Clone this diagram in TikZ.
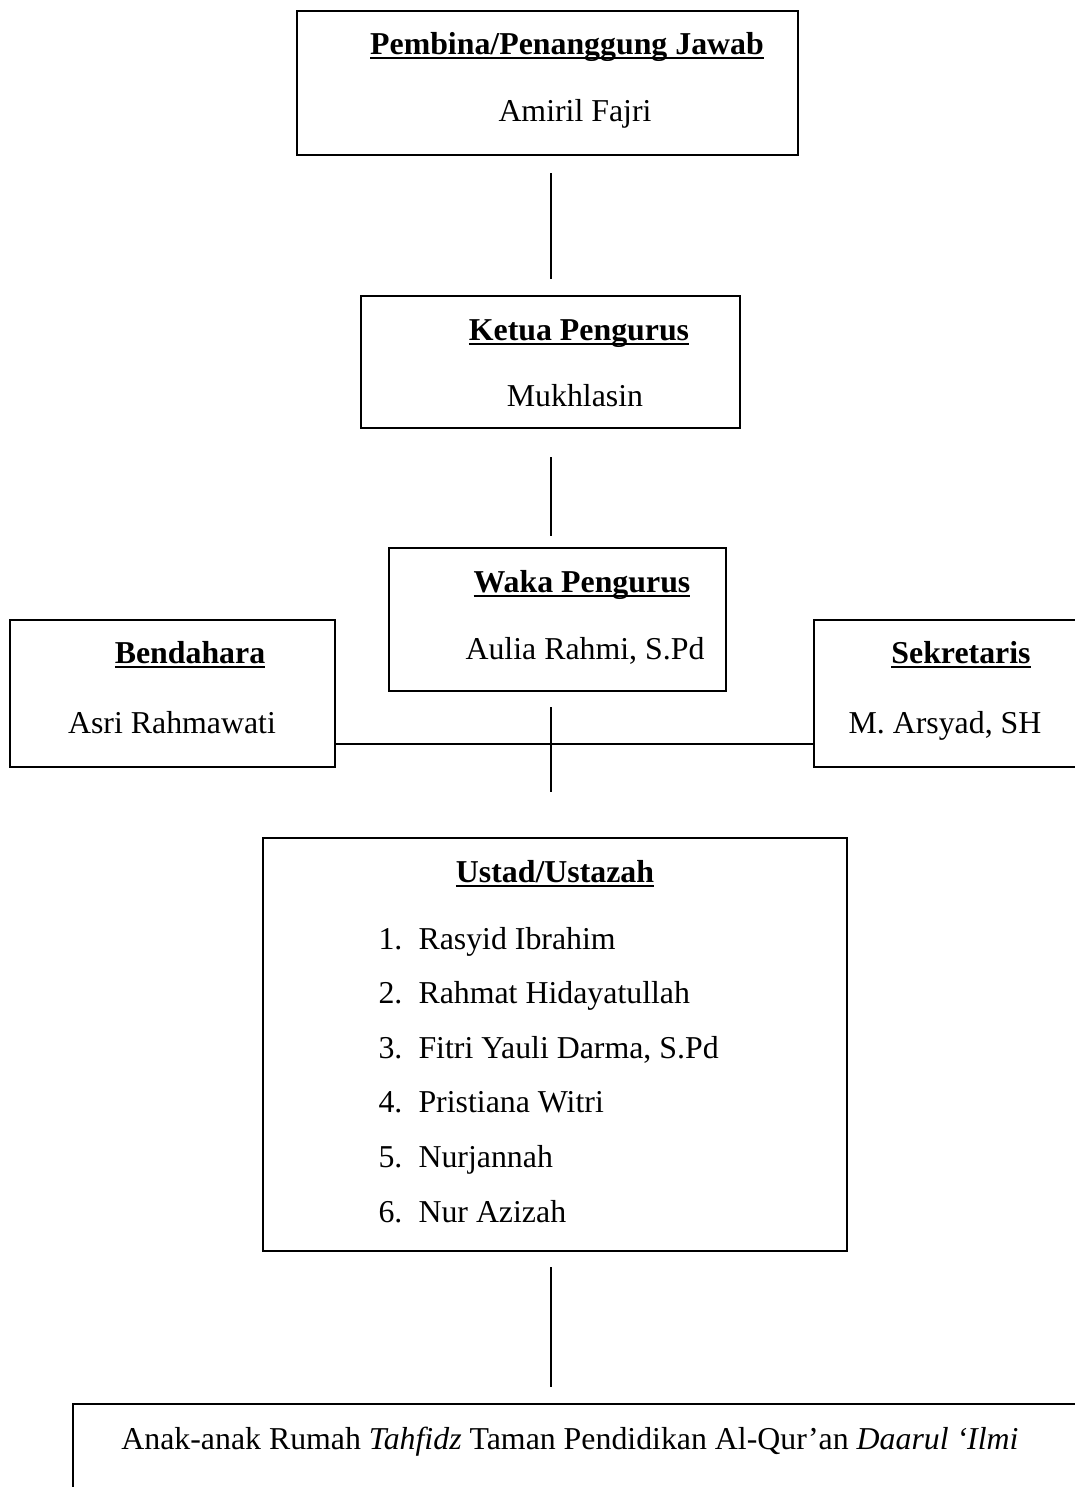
\documentclass[tikz,border=0pt]{standalone}
\usepackage{fontspec}
\setmainfont{Liberation Serif}

% underlined heading with the rule just below the baseline
\newcommand{\ulbox}[1]{\setbox0\hbox{#1}\rlap{\rule[-2pt]{\wd0}{0.8pt}}\box0}
\newcommand{\bodysize}{\fontsize{12.1pt}{14pt}\selectfont}

\begin{document}
\begin{tikzpicture}[
    x=0.38pt, y=-0.38pt,
    box/.style={draw, line width=0.8pt, inner sep=0pt},
    heading/.style={anchor=base, inner sep=0pt, font=\bodysize\bfseries},
    person/.style={anchor=base, inner sep=0pt, font=\bodysize},
    link/.style={line width=0.6pt},
]
\useasboundingbox (0,0) rectangle (1075,1487);
\clip (0,0) rectangle (1075,1487);

% Boxes
\node[box, minimum width=190.4pt, minimum height=54.7pt] (pembina) at (547.5,83) {};
\node[box, minimum width=144.0pt, minimum height=50.2pt] (ketua) at (550.5,362) {};
\node[box, minimum width=128.1pt, minimum height=54.3pt] (waka) at (557.5,619.5) {};
\node[box, minimum width=123.5pt, minimum height=55.9pt] (bendahara) at (172.5,693.5) {};
\node[box, minimum width=108.7pt, minimum height=55.9pt] (sekretaris) at (957,693.5) {};
\node[box, minimum width=221.9pt, minimum height=156.9pt] (ustad) at (555,1044.5) {};
\node[box, minimum width=390.3pt, minimum height=44.1pt] (santri) at (586.5,1462) {};

% Texts
\node[heading] (pembinaT) at (567,54) {\ulbox{Pembina/Penanggung Jawab}};
\node[person] (pembinaN) at (575,121) {Amiril Fajri};
\node[heading] (ketuaT) at (579,340) {\ulbox{Ketua Pengurus}};
\node[person] (ketuaN) at (575,406) {Mukhlasin};
\node[heading] (wakaT) at (582,592) {\ulbox{Waka Pengurus}};
\node[person] (wakaN) at (585,659) {Aulia Rahmi, S.Pd};
\node[heading] (bendaharaT) at (190,663) {\ulbox{Bendahara}};
\node[person] (bendaharaN) at (172,733) {Asri Rahmawati};
\node[heading] (sekretarisT) at (961,663) {\ulbox{Sekretaris}};
\node[person] (sekretarisN) at (945,733) {M. Arsyad, SH};
\node[heading] (ustadT) at (555,882) {\ulbox{Ustad/Ustazah}};
\foreach \i/\who in {1/Rasyid Ibrahim, 2/Rahmat Hidayatullah,
    3/{Fitri Yauli Darma, S.Pd}, 4/Pristiana Witri, 5/Nurjannah, 6/Nur Azizah} {
  \node[person, anchor=base west] (num\i) at (378,{949+54.6*(\i-1)}) {\i.};
  \node[person, anchor=base west] (item\i) at (418,{949+54.6*(\i-1)}) {\who};
}
\node[person] (santriT) at (570,1449)
    {Anak-anak Rumah \textit{Tahfidz} Taman Pendidikan Al-Qur’an \textit{Daarul ‘Ilmi}};

% Connectors
\coordinate (axis) at (551,0);
\coordinate (hub) at (551,744);
\draw[link, shorten <=6.5pt, shorten >=6.1pt] (pembina.south -| axis) -- (ketua.north -| axis);
\draw[link, shorten <=10.6pt, shorten >=4.2pt] (ketua.south -| axis) -- (waka.north -| axis);
\draw[link, shorten <=5.7pt, shorten >=17.1pt] (waka.south -| axis) -- (ustad.north -| axis);
\draw[link] (bendahara.east |- hub) -- (sekretaris.west |- hub);
\draw[link, shorten <=5.7pt, shorten >=6.1pt] (ustad.south -| axis) -- (santri.north -| axis);

\end{tikzpicture}
\end{document}
